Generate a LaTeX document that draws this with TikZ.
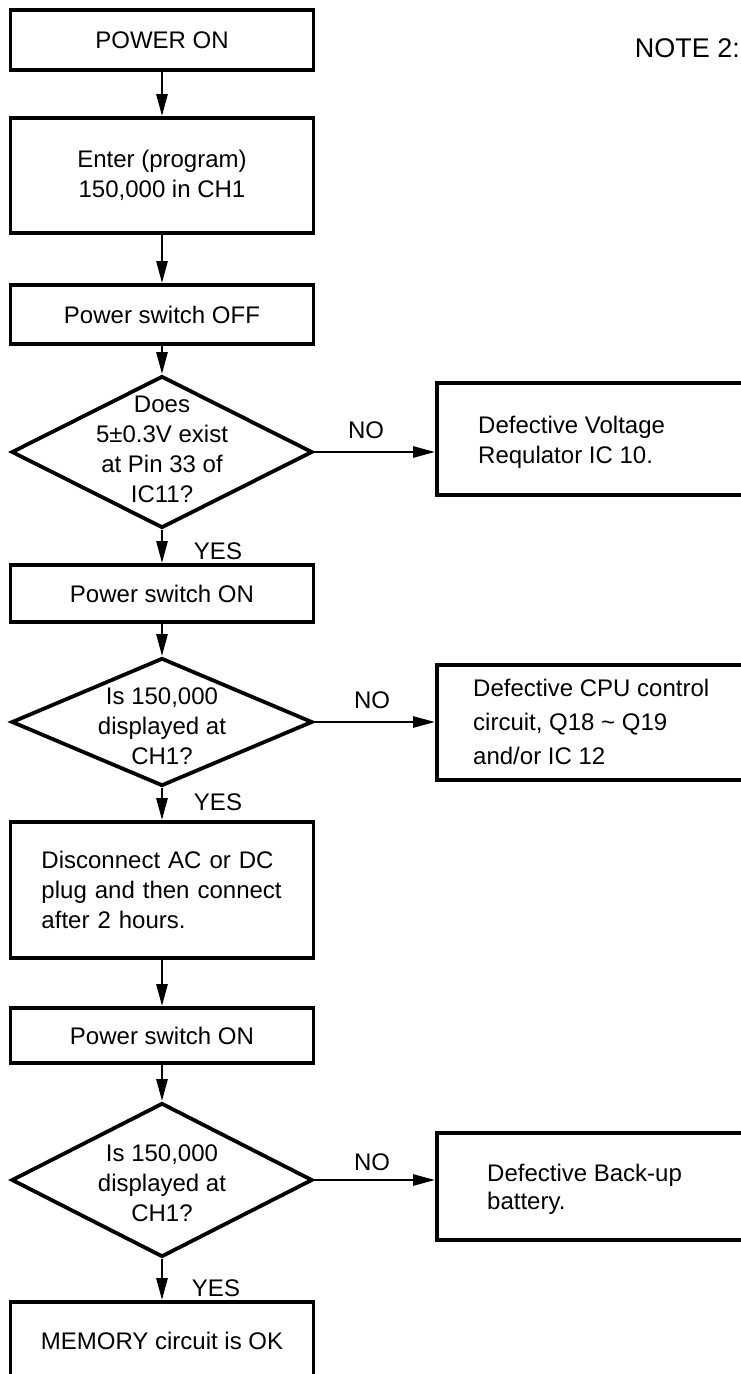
\documentclass[tikz,border=0pt]{standalone}
\usepackage{fontspec}
\setmainfont{Liberation Sans}
\usetikzlibrary{arrows.meta,shapes.geometric}
\begin{document}
\begin{tikzpicture}[x=1pt,y=-1pt,
  every node/.style={font=\fontsize{24}{30}\selectfont},
  box/.style={draw, line width=3.8pt, minimum width=303pt, inner sep=0pt, align=center},
  dia/.style={draw, diamond, line width=3.8pt, minimum width=301pt, inner sep=0pt},
  rbox/.style={draw, line width=3.8pt, minimum width=323pt, inner sep=0pt},
  arr/.style={line width=2.6pt, -{Triangle[length=22pt,width=11pt]}},
  lbl/.style={inner sep=0pt}]
\useasboundingbox (0,0) rectangle (741,1374);
\clip (0,0) rectangle (741,1374);

% left column
\node[box, minimum height=60pt] (b1) at (162,40) {POWER ON};
\node[box, minimum height=115pt] (b2) at (162,175.5) {Enter (program)\\150,000 in CH1};
\node[box, minimum height=59pt] (b3) at (162,314.5) {Power switch OFF};
\node[dia, minimum height=152pt] (d1) at (162,452) {};
\node[lbl, align=center] (d1t) at (162,449) {Does\\5±0.3V exist\\at Pin 33 of\\IC11?};
\node[box, minimum height=57pt] (b4) at (162,593.5) {Power switch ON};
\node[dia, minimum height=128pt] (d2) at (162,722) {};
\node[lbl, align=center] (d2t) at (162,726) {Is 150,000\\displayed at\\CH1?};
\node[box, minimum height=136pt, align=left, text width=241pt, inner xsep=31pt] (b5) at (162,890) {Disconnect AC or DC\\plug and then connect\\after 2 hours.};
\node[box, minimum height=55pt] (b6) at (162,1035.5) {Power switch ON};
\node[dia, minimum height=154pt] (d3) at (162,1180) {};
\node[lbl, align=center] (d3t) at (162,1183) {Is 150,000\\displayed at\\CH1?};
\node[box, minimum height=78pt] (b7) at (162,1341) {MEMORY circuit is OK};

% right column
\node[rbox, minimum height=112pt] (r1) at (598.5,439) {};
\node[lbl, anchor=west, align=left] (r1t) at (478,442) {Defective Voltage\\Requlator IC 10.};
\node[rbox, minimum height=115pt] (r2) at (598.5,722.5) {};
\node[lbl, anchor=west, align=left, font=\fontsize{24}{34}\selectfont] (r2t) at (473,722) {Defective CPU control\\circuit, Q18 \textasciitilde{} Q19\\and/or IC 12};
\node[rbox, minimum height=107pt] (r3) at (598.5,1186.5) {};
\node[lbl, anchor=west, align=left, font=\fontsize{24}{28}\selectfont] (r3t) at (487,1189) {Defective Back-up\\battery.};

% labels
\node[lbl] (no1) at (366,430) {NO};
\node[lbl] (no2) at (372,700) {NO};
\node[lbl] (no3) at (372,1162) {NO};
\node[lbl] (yes1) at (218,551) {YES};
\node[lbl] (yes2) at (218,802) {YES};
\node[lbl] (yes3) at (216,1288) {YES};
\node[lbl, anchor=east, font=\fontsize{27}{30}\selectfont] (note) at (740,48) {NOTE 2:};

% connectors
\draw[arr] (b1.south) -- (b2.north);
\draw[arr] (b2.south) -- (b3.north);
\draw[arr] (b3.south) -- (d1.north);
\draw[arr] (d1.south) -- (b4.north);
\draw[arr] (b4.south) -- (d2.north);
\draw[arr] (d2.south) -- (b5.north);
\draw[arr] (b5.south) -- (b6.north);
\draw[arr] (b6.south) -- (d3.north);
\draw[arr] (d3.south) -- (b7.north);
\draw[arr] (d1.east) -- (d1.east -| r1.west);
\draw[arr] (d2.east) -- (d2.east -| r2.west);
\draw[arr] (d3.east) -- (d3.east -| r3.west);
\end{tikzpicture}
\end{document}
